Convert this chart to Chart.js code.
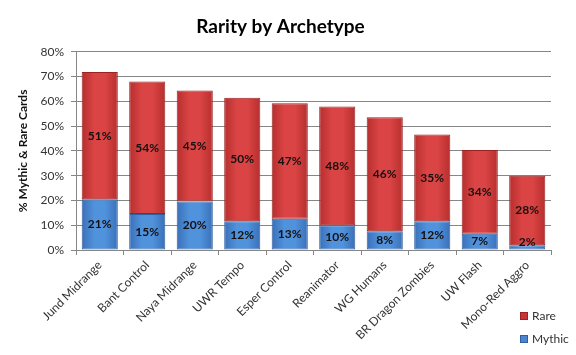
<!DOCTYPE html>
<html>
<head>
<meta charset="utf-8">
<script src="https://cdn.jsdelivr.net/npm/chart.js@4/dist/chart.umd.min.js"></script>
<style>
  html, body { margin: 0; padding: 0; background: #fff; }
  #wrap { position: relative; width: 576px; height: 355px; }
  #legend { position: absolute; left: 520px; top: 304px; font: 12px Lato, "Open Sans", sans-serif; color: #333; }
  .li { display: flex; align-items: center; height: 23px; }
  .sw { width: 6px; height: 6px; margin-right: 4px; }
</style>
</head>
<body>
<div id="wrap">
  <canvas id="c" width="576" height="355"></canvas>
  <div id="legend">
    <div class="li"><span class="sw" style="background:#c73535;border:1px solid #9a2424"></span>Rare</div>
    <div class="li"><span class="sw" style="background:#4a86cf;border:1px solid #2f5f9e"></span>Mythic</div>
  </div>
</div>
<script>
const categories = ["Jund Midrange", "Bant Control", "Naya Midrange", "UWR Tempo", "Esper Control", "Reanimator", "WG Humans", "BR Dragon Zombies", "UW Flash", "Mono-Red Aggro"];
const mythic = [20.5, 14.5, 19.6, 11.6, 12.6, 10.0, 7.6, 11.6, 6.6, 1.9];
const rare = [51.3, 53.5, 44.8, 49.9, 46.6, 47.9, 46.0, 35.0, 33.8, 28.1];
const yTickValues = [0, 10, 20, 30, 40, 50, 60, 70, 80];

const BAR_PCT = 0.76;

function barFill(stops) {
  return function (ctx) {
    const chart = ctx.chart;
    const xs = chart.scales && chart.scales.x;
    if (!chart.chartArea || !xs) return stops[1];
    const cx = xs.getPixelForValue(ctx.dataIndex);
    const w = xs.width / categories.length * BAR_PCT;
    const g = chart.ctx.createLinearGradient(cx - w / 2, 0, cx + w / 2, 0);
    g.addColorStop(0, stops[0]);
    g.addColorStop(0.35, stops[1]);
    g.addColorStop(0.65, stops[1]);
    g.addColorStop(1, stops[0]);
    return g;
  };
}

const labelPlugin = {
  id: 'segLabels',
  afterDatasetsDraw(chart) {
    const ctx = chart.ctx;
    ctx.save();
    ctx.font = 'bold 12px Lato, "Open Sans", sans-serif';
    ctx.fillStyle = '#141010';
    ctx.textAlign = 'center';
    ctx.textBaseline = 'middle';
    chart.data.datasets.forEach((ds, di) => {
      const meta = chart.getDatasetMeta(di);
      meta.data.forEach((el, i) => {
        const v = ds.data[i];
        let y = (el.y + el.base) / 2;
        if (di === 0) y = Math.min(y, chart.chartArea.bottom - 8);
        ctx.fillText(Math.round(v) + '%', el.x, y);
      });
    });
    ctx.restore();
  }
};

new Chart(document.getElementById('c'), {
  type: 'bar',
  data: {
    labels: categories,
    datasets: [
      {
        label: 'Mythic',
        data: mythic,
        backgroundColor: barFill(['#3a70b8', '#5092dc']),
        borderColor: '#2f5f9e',
        borderWidth: 1,
        borderSkipped: false,
        barPercentage: BAR_PCT,
        categoryPercentage: 1
      },
      {
        label: 'Rare',
        data: rare,
        backgroundColor: barFill(['#b72e2e', '#da4444']),
        borderColor: '#9a2424',
        borderWidth: 1,
        borderSkipped: false,
        barPercentage: BAR_PCT,
        categoryPercentage: 1
      }
    ]
  },
  options: {
    responsive: false,
    animation: false,
    devicePixelRatio: 1,
    layout: { padding: { left: 10, right: 25, top: 1, bottom: 0 } },
    plugins: {
      legend: { display: false },
      tooltip: { enabled: false },
      title: {
        display: true,
        text: 'Rarity by Archetype',
        color: '#000',
        font: { family: 'Lato, "Open Sans", sans-serif', size: 19, weight: 'bold' },
        padding: { top: 14, bottom: 14 }
      }
    },
    scales: {
      x: {
        stacked: true,
        grid: { offset: true, drawOnChartArea: false, drawTicks: true, tickLength: 5, color: '#868686' },
        border: { color: '#868686' },
        ticks: {
          color: '#333',
          font: { family: 'Lato, "Open Sans", sans-serif', size: 12 },
          minRotation: 45,
          maxRotation: 45,
          padding: 3,
          autoSkip: false
        },
        afterFit(scale) { scale.height = 105; }
      },
      y: {
        stacked: true,
        min: 0,
        max: 80,
        afterBuildTicks(scale) { scale.ticks = yTickValues.map(v => ({ value: v })); },
        grid: { color: '#868686', tickLength: 5, drawTicks: true },
        border: { color: '#868686' },
        ticks: {
          color: '#333',
          font: { family: 'Lato, "Open Sans", sans-serif', size: 12 },
          padding: 7,
          callback: v => v + '%'
        },
        title: {
          display: true,
          text: '% Mythic & Rare Cards',
          color: '#111',
          font: { family: 'Lato, "Open Sans", sans-serif', size: 12, weight: 'bold' },
          padding: { top: 6, bottom: 4 }
        },
        afterFit(scale) { scale.width = 66; }
      }
    }
  },
  plugins: [labelPlugin]
});
</script>
</body>
</html>
